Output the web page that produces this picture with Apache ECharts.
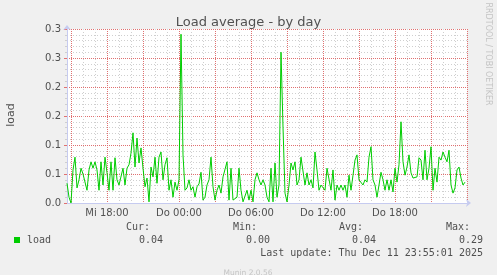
<!DOCTYPE html>
<html>
<head>
<meta charset="utf-8">
<script src="https://cdn.jsdelivr.net/npm/echarts@6/dist/echarts.min.js"></script>
<style>
html,body{margin:0;padding:0;background:#f0f0f0;}
#c{width:497px;height:275px;}
</style>
</head>
<body>
<div id="c"></div>
<script>
// Data: load average sampled every 10 minutes, starting Wed 14:40
var loadValues = [
0.034,0.010,0.000,0.057,0.079,0.026,0.040,0.060,0.050,0.050,
0.022,0.057,0.071,0.060,0.071,0.057,0.022,0.071,0.031,0.079,
0.052,0.022,0.071,0.022,0.078,0.040,0.031,0.029,0.060,0.031,
0.060,0.066,0.086,0.121,0.062,0.112,0.069,0.095,0.060,0.028,
0.043,0.002,0.062,0.045,0.079,0.034,0.079,0.088,0.040,0.066,
0.078,0.022,0.040,0.010,0.036,0.022,0.040,0.291,0.083,0.022,
0.026,0.040,0.022,0.028,0.010,0.028,0.033,0.053,0.005,0.010,
0.031,0.040,0.079,0.028,0.005,0.022,0.031,0.017,0.045,0.045,
0.071,0.005,0.060,0.005,0.002,0.010,0.060,0.022,0.002,0.002,
0.022,0.005,0.022,0.002,0.040,0.052,0.040,0.031,0.040,0.031,
0.010,0.002,0.060,0.002,0.069,0.010,0.031,0.260,0.131,0.017,
0.002,0.031,0.069,0.057,0.071,0.031,0.040,0.079,0.079,0.031,
0.052,0.031,0.040,0.026,0.088,0.057,0.022,0.031,0.031,0.022,
0.060,0.057,0.022,0.057,0.005,0.031,0.022,0.031,0.022,0.031,
0.010,0.048,0.022,0.048,0.074,0.083,0.040,0.040,0.031,0.040,
0.036,0.079,0.097,0.040,0.031,0.010,0.031,0.053,0.040,0.022,
0.040,0.022,0.040,0.019,0.060,0.036,0.066,0.140,0.071,0.048,
0.062,0.083,0.052,0.043,0.043,0.045,0.078,0.074,0.040,0.091,
0.040,0.060,0.097,0.022,0.060,0.036,0.079,0.074,0.088,0.079,
0.071,0.091,0.031,0.017,0.026,0.057,0.062,0.043,0.031,0.036
];
var startMinute = 14 * 60 + 40;
var stepMinutes = 10;
var slotCount = 201;
var dayNames = ['Mi', 'Do', 'Fr'];
var xTickLabels = ['Mi 18:00', 'Do 00:00', 'Do 06:00', 'Do 12:00', 'Do 18:00'];
var yTickLabels = ['0.0', '0.1', '0.1', '0.2', '0.2', '0.3', '0.3'];
var statLabels = ['Cur:', 'Min:', 'Avg:', 'Max:'];
var statValues = ['0.04', '0.00', '0.04', '0.29'];
var seriesName = 'load';
var lastUpdate = 'Last update: Thu Dec 11 23:55:01 2025';

function pad(n) { return (n < 10 ? '0' : '') + n; }
var categories = [];
var minuteOfDay = [];
for (var i = 0; i < slotCount; i++) {
  var t = startMinute + i * stepMinutes;
  var d = Math.floor(t / 1440);
  var m = t % 1440;
  categories.push(dayNames[d] + ' ' + pad(Math.floor(m / 60)) + ':' + pad(m % 60));
  minuteOfDay.push(m);
}

var axisCol = '#c6cbf0';
var redGrid = '#e07070';
var greyGrid = '#cfcfcf';
var txtCol = '#505050';
var mono = '"DejaVu Sans Mono", monospace';
var sans = '"DejaVu Sans", sans-serif';

var chart = echarts.init(document.getElementById('c'), null, {renderer: 'canvas'});

var graphics = [
  {type: 'text', x: 11, y: 115, rotation: Math.PI / 2,
   style: {text: 'load', font: '11px ' + sans, fill: txtCol, textAlign: 'center', textVerticalAlign: 'middle'}},
  {type: 'text', x: 488, y: 54, rotation: -Math.PI / 2,
   style: {text: 'RRDTOOL / TOBI OETIKER', font: '8px ' + sans, fill: '#c4c4c4', textAlign: 'center', textVerticalAlign: 'middle'}},
  {type: 'rect', shape: {x: 14, y: 237, width: 6, height: 6}, style: {fill: '#00cc00'}},
  {type: 'text', x: 27, y: 240, style: {text: seriesName, font: '10px ' + mono, fill: txtCol, textAlign: 'left', textVerticalAlign: 'middle'}},
  {type: 'text', x: 483, y: 253, style: {text: lastUpdate, font: '10px ' + mono, fill: txtCol, textAlign: 'right', textVerticalAlign: 'middle'}},
  {type: 'text', x: 248, y: 273, style: {text: 'Munin 2.0.56', font: '7.5px ' + sans, fill: '#c4c4c4', textAlign: 'center', textVerticalAlign: 'middle'}}
];
var statRight = [163, 270, 376, 483];
for (var k = 0; k < statLabels.length; k++) {
  graphics.push({type: 'text', x: statRight[k] - 13, y: 227,
    style: {text: statLabels[k], font: '10px ' + mono, fill: txtCol, textAlign: 'right', textVerticalAlign: 'middle'}});
  graphics.push({type: 'text', x: statRight[k], y: 240,
    style: {text: statValues[k], font: '10px ' + mono, fill: txtCol, textAlign: 'right', textVerticalAlign: 'middle'}});
}

chart.setOption({
  animation: false,
  backgroundColor: '#f0f0f0',
  title: {
    text: 'Load average - by day', left: 'center', top: 11,
    textStyle: {fontFamily: sans, fontSize: 13, fontWeight: 'normal', color: txtCol}
  },
  grid: {left: 67, right: 30, top: 29, bottom: 72, show: true, backgroundColor: '#ffffff', borderWidth: 0},
  xAxis: [{
    type: 'category', data: categories, boundaryGap: false,
    axisLine: {show: true, lineStyle: {color: axisCol, width: 1}, symbol: ['none', 'arrow'], symbolSize: [6, 5], symbolOffset: [0, 4]},
    axisTick: {show: false},
    axisLabel: {
      interval: function (idx, val) { return xTickLabels.indexOf(val) >= 0; },
      fontFamily: sans, fontSize: 10, color: txtCol, margin: 5
    },
    splitLine: {show: true, interval: function (idx) { return minuteOfDay[idx] % 60 === 0 && minuteOfDay[idx] % 180 !== 0; },
      lineStyle: {color: greyGrid, type: [1, 2], width: 1}}
  }, {
    type: 'category', data: categories, boundaryGap: false, position: 'bottom',
    axisLine: {show: false}, axisTick: {show: false}, axisLabel: {show: false},
    splitLine: {show: true, interval: function (idx) { return minuteOfDay[idx] % 180 === 0; },
      lineStyle: {color: redGrid, type: [1, 1], width: 1}}
  }],
  yAxis: {
    type: 'value', min: 0, max: 0.3, interval: 0.05,
    axisLine: {show: true, lineStyle: {color: axisCol, width: 1}, symbol: ['none', 'arrow'], symbolSize: [6, 5], symbolOffset: [0, 4]},
    axisTick: {show: true, length: 3, lineStyle: {color: redGrid}},
    minorTick: {show: true, splitNumber: 5, length: 2, lineStyle: {color: greyGrid}},
    axisLabel: {
      formatter: function (v) { return yTickLabels[Math.round(v / 0.05)]; },
      fontFamily: sans, fontSize: 10, color: txtCol, margin: 6
    },
    splitLine: {show: true, lineStyle: {color: redGrid, type: [1, 1], width: 1}},
    minorSplitLine: {show: true, lineStyle: {color: greyGrid, type: [1, 2], width: 1}}
  },
  graphic: graphics,
  series: [{
    name: seriesName, type: 'line', data: loadValues, showSymbol: false,
    lineStyle: {color: '#00cc00', width: 1}, itemStyle: {color: '#00cc00'}, z: 5
  }]
});
</script>
</body>
</html>
